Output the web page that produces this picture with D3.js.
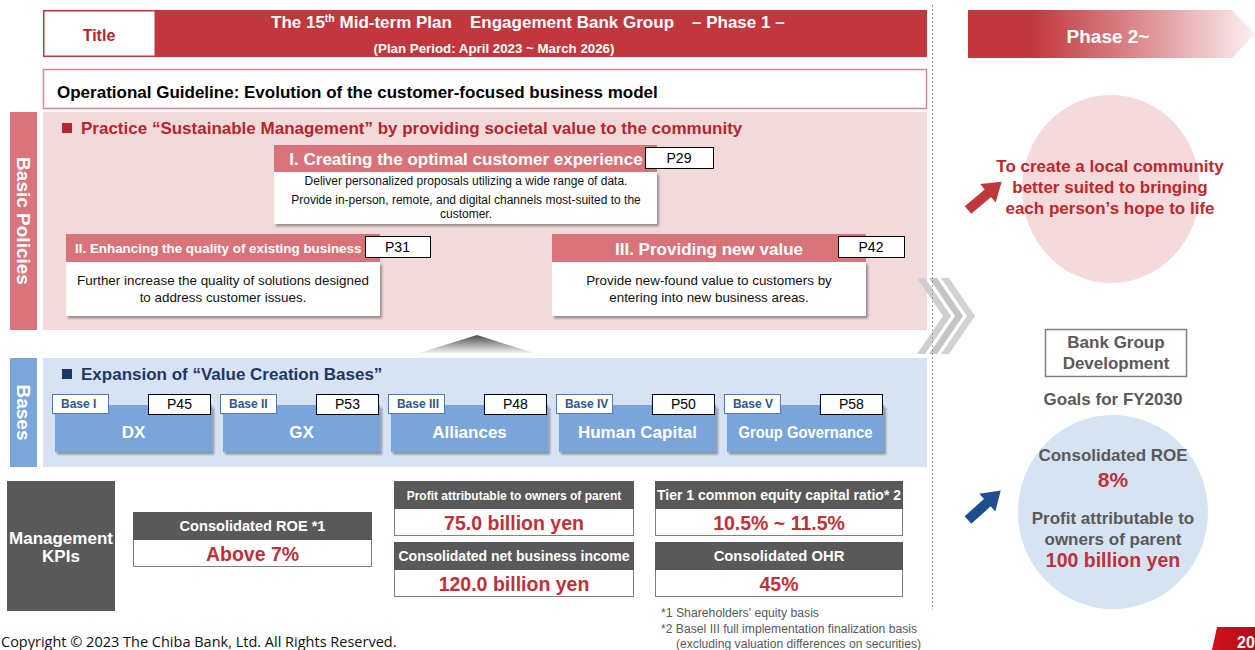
<!DOCTYPE html>
<html><head><meta charset="utf-8">
<script src="https://cdn.jsdelivr.net/npm/d3@7"></script>
<style>html,body{margin:0;padding:0;background:#fff;overflow:hidden}svg{display:block;font-family:"Liberation Sans",Arial,sans-serif}</style>
</head><body><svg id="c" width="1255" height="650"></svg>
<script>
// ---------------- data ----------------
const titleLabel = "Title";
const titleParts = ["The 15", "th", " Mid-term Plan", "Engagement Bank Group", "– Phase 1 –"];
const planPeriod = "(Plan Period: April 2023 ~ March 2026)";
const guideline = "Operational Guideline: Evolution of the customer-focused business model";
const sectionLabels = ["Basic Policies", "Bases"];
const policyHeading = "Practice “Sustainable Management” by providing societal value to the community";
const policyTitles = ["I. Creating the optimal customer experience", "II. Enhancing the quality of existing business", "III. Providing new value"];
const policyPages = ["P29", "P31", "P42"];
const policyLines = [
  ["Deliver personalized proposals utilizing a wide range of data.", "Provide in-person, remote, and digital channels most-suited to the", "customer."],
  ["Further increase the quality of solutions designed", "to address customer issues."],
  ["Provide new-found value to customers by", "entering into new business areas."]
];
const basesHeading = "Expansion of “Value Creation Bases”";
const baseTags = ["Base I", "Base II", "Base III", "Base IV", "Base V"];
const baseNames = ["DX", "GX", "Alliances", "Human Capital", "Group Governance"];
const basePages = ["P45", "P53", "P48", "P50", "P58"];
const kpiTitle = ["Management", "KPIs"];
const kpiLabels = ["Consolidated ROE *1", "Profit attributable to owners of parent", "Consolidated net business income", "Tier 1 common equity capital ratio* 2", "Consolidated OHR"];
const kpiValues = ["Above 7%", "75.0 billion yen", "120.0 billion yen", "10.5% ~ 11.5%", "45%"];
const footnotes = ["*1 Shareholders' equity basis", "*2 Basel III full implementation finalization basis", "(excluding valuation differences on securities)"];
const copyright = "Copyright © 2023 The Chiba Bank, Ltd. All Rights Reserved.";
const phase2Label = "Phase 2~";
const visionLines = ["To create a local community", "better suited to bringing", "each person’s hope to life"];
const devLines = ["Bank Group", "Development"];
const goalsTitle = "Goals for FY2030";
const goalLabels = ["Consolidated ROE", "Profit attributable to|owners of parent"];
const goalValues = ["8%", "100 billion yen"];
const pageNumber = "20";

// ---------------- colours ----------------
const RED = "#c1373d", TRED = "#b7252c", VRED = "#c0303a", PHEAD = "#d9737a", PBG = "#f2dadb";
const BLUE = "#7ba6d9", BBG = "#d7e3f3", NAVY = "#1f3763", GRAY = "#595959";

const svg = d3.select("#c");
const defs = svg.append("defs");
const sh = defs.append("filter").attr("id", "sh").attr("x", "-5%").attr("y", "-10%").attr("width", "115%").attr("height", "135%");
sh.append("feDropShadow").attr("dx", 2).attr("dy", 2.5).attr("stdDeviation", 1.3).attr("flood-color", "#000").attr("flood-opacity", 0.35);
const g1 = defs.append("linearGradient").attr("id", "ph2").attr("x1", 0).attr("x2", 1).attr("y1", 0).attr("y2", 0);
[[0, RED], [0.22, RED], [0.6, "#dc8c90"], [1, "#fcf0f0"]].forEach(s => g1.append("stop").attr("offset", s[0]).attr("stop-color", s[1]));
const g2 = defs.append("linearGradient").attr("id", "tri").attr("x1", 0).attr("x2", 0).attr("y1", 0).attr("y2", 1);
[[0, "#4d4d4d"], [1, "#f2f2f2"]].forEach(s => g2.append("stop").attr("offset", s[0]).attr("stop-color", s[1]));
const g3 = defs.append("linearGradient").attr("id", "pg").attr("x1", 0).attr("x2", 1);
[[0, "#d4101e"], [1, "#b00d18"]].forEach(s => g3.append("stop").attr("offset", s[0]).attr("stop-color", s[1]));

function T(x, y, s, o = {}) {
  return svg.append("text").attr("x", x).attr("y", y).text(s)
    .attr("font-size", o.size || 14).attr("font-weight", o.bold ? "bold" : "normal")
    .attr("fill", o.fill || "#000").attr("text-anchor", o.anchor || "start")
    .attr("font-family", o.family || null);
}
function R(x, y, w, h, fill, stroke, sw, filt) {
  const r = svg.append("rect").attr("x", x).attr("y", y).attr("width", w).attr("height", h).attr("fill", fill);
  if (stroke) r.attr("stroke", stroke).attr("stroke-width", sw || 1);
  if (filt) r.attr("filter", "url(#sh)");
  return r;
}

// ---------------- title bar ----------------
R(43, 10, 884, 47, RED);
R(44.5, 11.5, 110, 44, "#fff");
T(99, 41, titleLabel, {size: 16, bold: true, fill: TRED, anchor: "middle"});
const tt = T(271, 28, "", {size: 17, bold: true, fill: "#fff"});
tt.append("tspan").text(titleParts[0]);
tt.append("tspan").text(titleParts[1]).attr("font-size", 10.5).attr("dy", -6);
tt.append("tspan").text(titleParts[2]).attr("dy", 6);
T(470, 28, titleParts[3], {size: 17, bold: true, fill: "#fff"});
T(692, 28, titleParts[4], {size: 17, bold: true, fill: "#fff"});
T(494, 53, planPeriod, {size: 13.3, bold: true, fill: "#fff", anchor: "middle"});

// ---------------- guideline ----------------
R(43.5, 69.5, 883, 39, "#fff", "#d9898e", 1.5);
T(57, 98, guideline, {size: 17, bold: true});

// ---------------- section labels ----------------
const secY = [[112, 218], [358, 109]];
const secFill = [["#d9747a", PBG], [BLUE, BBG]];
sectionLabels.forEach((s, i) => {
  R(10, secY[i][0], 27, secY[i][1], secFill[i][0]);
  R(43, secY[i][0], 884, secY[i][1], secFill[i][1]);
  const cy = secY[i][0] + secY[i][1] / 2;
  T(23, cy, s, {size: 19, bold: true, fill: "#fff", anchor: "middle"})
    .attr("dominant-baseline", "central").attr("transform", `rotate(90,23,${cy})`);
});

// ---------------- basic policies ----------------
R(62, 123, 10, 10, TRED);
T(81, 134, policyHeading, {size: 17, bold: true, fill: TRED});
const pl = [
  {x: 274, hy: 145, w: 383, hh: 27, bh: 52, px: 645, pw: 68, tx: 466, anchor: "middle", ts: 17, ty: 165, lx: 466, ls: 12, ly: [185, 204, 218]},
  {x: 66, hy: 234, w: 314, hh: 28, bh: 54, px: 365, pw: 65, tx: 75, anchor: "start", ts: 13.4, ty: 253, lx: 223, ls: 13.4, ly: [285, 302]},
  {x: 552, hy: 234, w: 314, hh: 28, bh: 54, px: 838, pw: 66, tx: 709, anchor: "middle", ts: 17, ty: 255, lx: 709, ls: 13.4, ly: [285, 302]}
];
policyTitles.forEach((t, i) => {
  const L = pl[i];
  R(L.x, L.hy + L.hh, L.w, L.bh, "#fff", null, 0, true);
  R(L.x, L.hy, L.w, L.hh, PHEAD);
  T(L.tx, L.ty, t, {size: L.ts, bold: true, fill: "#fff", anchor: L.anchor});
  R(L.px + 0.5, L.hy + 2.5, L.pw, 21, "#fff", "#000", 1);
  T(L.px + L.pw / 2, L.hy + 18, policyPages[i], {size: 14, anchor: "middle"});
  policyLines[i].forEach((ln, j) => T(L.lx, L.ly[j], ln, {size: L.ls, anchor: "middle", fill: "#111"}));
});

// up triangle
svg.append("polygon").attr("points", "419,353 477,335 534,353").attr("fill", "url(#tri)");

// ---------------- bases ----------------
R(62, 369, 10, 10, NAVY);
T(81, 380, basesHeading, {size: 17, bold: true, fill: NAVY});
const bx = d3.scaleBand().domain(baseNames).range([55, 884]).paddingInner(0.065).paddingOuter(0);
baseNames.forEach((n, i) => {
  const x = bx(n), w = bx.bandwidth();
  R(x, 405, w, 47, "#79a5da", null, 0, true);
  R(x - 2.5, 394.5, 56, 19, "#fff", "#4a7cc0", 1);
  T(x + 6, 408, baseTags[i], {size: 12, bold: true, fill: "#2f5597"});
  R(x + 93.5, 394.5, 62, 20, "#fff", "#000", 1);
  T(x + 124.5, 409, basePages[i], {size: 14, anchor: "middle"});
  const nt = T(x + w / 2, 438, n, {size: 17, bold: true, fill: "#fff", anchor: "middle"});
  if (n.length > 14) nt.attr("textLength", 134).attr("lengthAdjust", "spacingAndGlyphs");
});

// ---------------- KPIs ----------------
R(7, 481, 108, 130, GRAY);
T(61, 544, kpiTitle[0], {size: 17, bold: true, fill: "#fff", anchor: "middle"});
T(61, 562, kpiTitle[1], {size: 17, bold: true, fill: "#fff", anchor: "middle"});
const kl = [
  {x: 133, y: 512, w: 239, ls: 14.6},
  {x: 394, y: 481, w: 240, ls: 12},
  {x: 394, y: 542, w: 240, ls: 14},
  {x: 655, y: 481, w: 248, ls: 14},
  {x: 655, y: 542, w: 248, ls: 14.8}
];
kpiLabels.forEach((lab, i) => {
  const L = kl[i];
  R(L.x + 0.5, L.y + 27.5, L.w - 1, 27, "#fff", "#808080", 1);
  R(L.x, L.y, L.w, 28, GRAY);
  T(L.x + L.w / 2, L.y + 19, lab, {size: L.ls, bold: true, fill: "#fff", anchor: "middle"});
  T(L.x + L.w / 2, L.y + 49, kpiValues[i], {size: 19.5, bold: true, fill: VRED, anchor: "middle"});
});
footnotes.forEach((f, i) => T(i === 2 ? 676 : 661, [617, 633, 648][i], f, {size: 12, fill: GRAY})
  .attr("textLength", [158, 256, 245][i]).attr("lengthAdjust", "spacingAndGlyphs"));
T(1, 647, copyright, {size: 14.5, fill: "#111", family: "'Open Sans', sans-serif"});

// chevrons
[0, 12, 24].forEach((o, i) => {
  svg.append("polygon")
    .attr("points", [[917 + o, 278], [925 + o, 278], [951 + o, 316], [925 + o, 354], [917 + o, 354], [943 + o, 316]].map(p => p.join(",")).join(" "))
    .attr("fill", ["#cfcfcf", "#c4c4c4", "#d2d2d2"][i]);
});

// divider
svg.append("line").attr("x1", 932.5).attr("x2", 932.5).attr("y1", 5).attr("y2", 610)
  .attr("stroke", "#9a9a9a").attr("stroke-width", 1).attr("stroke-dasharray", "2,2");

// ---------------- phase 2 ----------------
svg.append("path").attr("d", "M968,10H1232L1255,34L1232,58H968Z").attr("fill", "url(#ph2)");
T(1108, 43, phase2Label, {size: 19, bold: true, fill: "#fff", anchor: "middle"});

svg.append("ellipse").attr("cx", 1111).attr("cy", 189).attr("rx", 89).attr("ry", 94).attr("fill", "#f5dadc");
visionLines.forEach((l, i) => T(1110, 172 + i * 21, l, {size: 17, bold: true, fill: "#c0272d", anchor: "middle"}));

function arrow(x, y, ang, col) {
  svg.append("path").attr("d", "M0,-5H26V-12L44,0L26,12V5H0Z").attr("fill", col)
    .attr("transform", `translate(${x},${y}) rotate(${ang})`);
}
arrow(968, 210, -40, "#c0373c");
arrow(968, 520, -42, "#1f4e8c");

R(1045.5, 329.5, 141, 47, "#fff", "#808080", 1.5);
devLines.forEach((l, i) => T(1116, 348 + i * 21, l, {size: 17, bold: true, fill: GRAY, anchor: "middle"}));
T(1113, 405, goalsTitle, {size: 17, bold: true, fill: GRAY, anchor: "middle"});
svg.append("ellipse").attr("cx", 1113).attr("cy", 512).attr("rx", 95).attr("ry", 97).attr("fill", "#d6e3f3");
T(1113, 461, goalLabels[0], {size: 17, bold: true, fill: GRAY, anchor: "middle"});
T(1113, 487, goalValues[0], {size: 21, bold: true, fill: VRED, anchor: "middle"});
goalLabels[1].split("|").forEach((l, i) => T(1113, 524 + i * 21, l, {size: 17, bold: true, fill: GRAY, anchor: "middle"}));
T(1113, 567, goalValues[1], {size: 19.5, bold: true, fill: VRED, anchor: "middle"});

// page tab
svg.append("path").attr("d", "M1217,627H1255V650H1212Z").attr("fill", "url(#pg)");
T(1237, 648, pageNumber, {size: 16, bold: true, fill: "#fff"});
</script></body></html>
